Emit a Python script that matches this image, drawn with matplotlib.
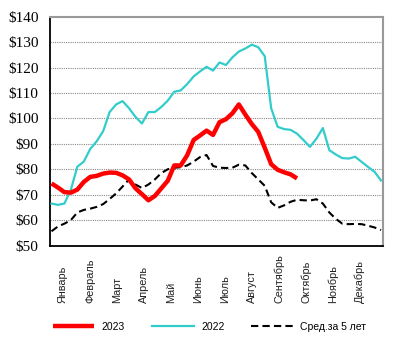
import matplotlib.pyplot as plt
from matplotlib.transforms import blended_transform_factory

# Недельные цены, $ (неделя 1..52)
weeks_2022 = list(range(1, 53))
price_2022 = [66.5, 66.0, 66.5, 72.0, 81.0, 83.0, 88.0, 91.0, 95.0, 102.5,
              105.5, 106.8, 104.0, 100.6, 98.0, 102.5, 102.5, 104.5, 107.0, 110.5,
              111.0, 113.5, 116.5, 118.5, 120.3, 118.8, 122.0, 121.0, 124.0, 126.3,
              127.5, 129.0, 128.0, 124.5, 104.0, 96.7, 95.8, 95.5, 94.0, 91.5,
              88.8, 92.0, 96.2, 87.5, 85.8, 84.4, 84.2, 84.9, 82.9, 80.9,
              79.0, 75.6]

weeks_2023 = list(range(1, 40))
price_2023 = [74.4, 72.8, 71.0, 70.8, 72.0, 75.0, 77.0, 77.4, 78.3, 78.7,
              78.6, 77.6, 76.0, 72.5, 70.2, 67.8, 69.5, 72.5, 75.5, 81.5,
              81.5, 85.5, 91.5, 93.3, 95.2, 93.5, 98.5, 99.7, 102.0, 105.5,
              101.5, 97.8, 94.7, 88.5, 82.0, 79.8, 78.8, 78.0, 76.4]

weeks_avg = list(range(1, 53))
price_avg = [55.6, 57.5, 58.6, 60.0, 63.0, 64.0, 64.5, 65.2, 66.3, 68.3,
             70.5, 73.2, 76.0, 74.0, 72.6, 74.0, 76.0, 78.5, 80.0, 80.6,
             80.8, 81.5, 83.0, 84.8, 85.6, 81.3, 80.6, 80.5, 80.6, 81.8,
             81.5, 78.5, 76.0, 73.5, 67.0, 64.8, 65.8, 67.2, 68.0, 67.8,
             67.7, 68.2, 66.5, 63.0, 60.5, 58.6, 58.4, 58.5, 58.4, 57.8,
             57.1, 56.1]

months = ['Январь', 'Февраль', 'Март', 'Апрель', 'Май', 'Июнь',
          'Июль', 'Август', 'Сентябрь', 'Октябрь', 'Ноябрь', 'Декабрь']
month_pos = [2.78 + 4.18 * i for i in range(12)]
y_ticks = list(range(50, 150, 10))

fig = plt.figure(figsize=(4.03, 3.41), dpi=100)
ax = fig.add_axes([0.1233, 0.280, 0.8263, 0.671])

ax.plot(weeks_2023, price_2023, color='#ff0000', lw=3.2, solid_joinstyle='round',
        solid_capstyle='butt', label='2023', zorder=4)
ax.plot(weeks_2022, price_2022, color='#33cccc', lw=1.6, solid_joinstyle='round',
        label='2022', zorder=3)
ax.plot(weeks_avg, price_avg, color='black', lw=1.5, ls=(0, (3.5, 2)),
        label='Сред.за 5 лет', zorder=3)

ax.set_xlim(0.72, 52.26)
ax.set_ylim(50, 140)
ax.set_yticks(y_ticks)
ax.set_yticklabels(['\\$%d' % v for v in y_ticks], family='Liberation Serif', fontsize=11)
ax.tick_params(axis='y', length=0, pad=8)
ax.set_xticks([])

for y in y_ticks[1:-1]:
    ax.axhline(y, color='#888888', lw=0.8, ls=(0, (1, 1)), zorder=1)

for side in ['left', 'bottom']:
    ax.spines[side].set_color('black')
    ax.spines[side].set_linewidth(1.3)
for side in ['top', 'right']:
    ax.spines[side].set_color('#999999')
    ax.spines[side].set_linewidth(1.5)

trans = blended_transform_factory(ax.transData, ax.transAxes)
for x, m in zip(month_pos, months):
    ax.text(x, -0.251, m, transform=trans, rotation=90, ha='center', va='bottom',
            family='Liberation Sans', fontsize=7.8, color='#222222')

fig.legend(loc='center', bbox_to_anchor=(0.52, 0.041), ncol=3, frameon=False,
           prop={'family': 'Liberation Sans', 'size': 7.5},
           handlelength=4.0, columnspacing=2.6, handletextpad=0.7)

fig.savefig('out.png', dpi=100)
